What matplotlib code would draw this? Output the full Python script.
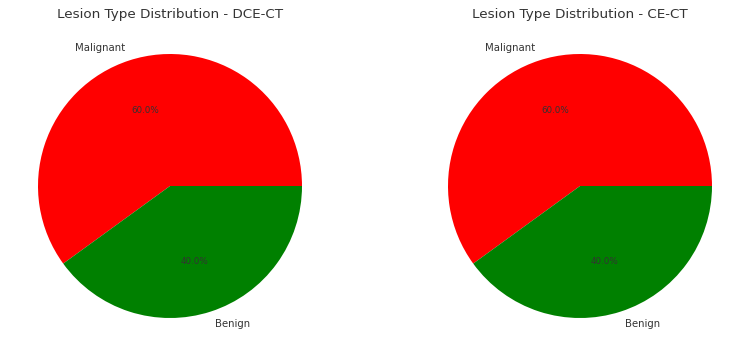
import matplotlib
matplotlib.use("Agg")
import matplotlib.pyplot as plt

labels = ["Malignant", "Benign"]
dce_ct = [60, 40]
ce_ct = [60, 40]
titles = ["Lesion Type Distribution - DCE-CT", "Lesion Type Distribution - CE-CT"]
colors = ["red", "green"]

plt.rcParams['font.family'] = ['DejaVu Sans']
plt.rcParams['text.color'] = '#333333'

fig = plt.figure(figsize=(7.5, 3.57), dpi=100)
half = 132 * 1.25
h = 2 * half / 357
w = 2 * half / 750
centers = [170 / 750, 580 / 750]
cy = 1 - 186 / 357
for cx, vals, title in zip(centers, [dce_ct, ce_ct], titles):
    ax = fig.add_axes([cx - w / 2, cy - h / 2, w, h])
    wedges, texts, autotexts = ax.pie(vals, labels=labels, colors=colors,
                                      autopct='%1.1f%%', startangle=0,
                                      textprops={'fontsize': 7.3, 'color': '#333333'})
    for t in autotexts:
        t.set_fontsize(6.3)
    ax.set_title(title, fontsize=9.7, color='#333333', pad=2)
    ax.set_aspect('equal')

fig.savefig("out.png", dpi=100)
